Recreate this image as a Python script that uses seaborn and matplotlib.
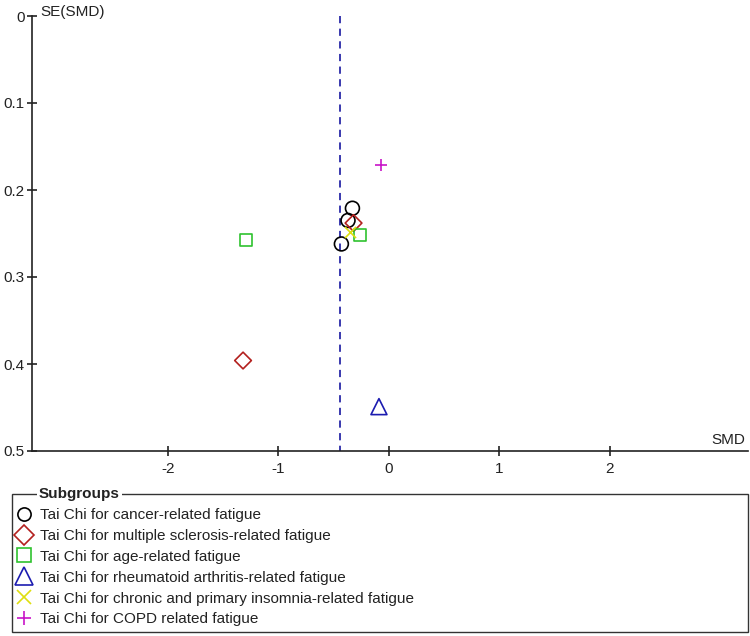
import matplotlib
matplotlib.use("Agg")
import matplotlib.pyplot as plt
from matplotlib.lines import Line2D
from matplotlib.patches import Rectangle
import seaborn as sns
import pandas as pd

# ---- data ----
groups = [
    "Tai Chi for cancer-related fatigue",
    "Tai Chi for multiple sclerosis-related fatigue",
    "Tai Chi for age-related fatigue",
    "Tai Chi for rheumatoid arthritis-related fatigue",
    "Tai Chi for chronic and primary insomnia-related fatigue",
    "Tai Chi for COPD related fatigue",
]
cancer_smd = [-0.33, -0.37, -0.43]
cancer_se = [0.221, 0.235, 0.262]
ms_smd = [-0.32, -1.32]
ms_se = [0.238, 0.396]
age_smd = [-0.26, -1.29]
age_se = [0.252, 0.257]
ra_smd = [-0.09]
ra_se = [0.449]
insomnia_smd = [-0.35]
insomnia_se = [0.248]
copd_smd = [-0.07]
copd_se = [0.171]
pooled_smd = -0.44

x_ticks = [-2, -1, 0, 1, 2]
x_tick_labels = ["-2", "-1", "0", "1", "2"]
y_ticks = [0, 0.1, 0.2, 0.3, 0.4, 0.5]
y_tick_labels = ["0", "0.1", "0.2", "0.3", "0.4", "0.5"]

# ---- style ----
sns.set_style("ticks")
plt.rcParams["font.family"] = ["Liberation Sans", "DejaVu Sans"]
plt.rcParams["font.size"] = 11

colors = ["#000000", "#b3201e", "#2fc22f", "#1c1cb0", "#dede10", "#c814c8"]
markers = ["o", "D", "s", "^", "x", "+"]
msizes = [10.0, 8.5, 8.6, 11.5, 8.0, 8.0]
leg_sizes = [9.5, 9.7, 9.8, 13.0, 9.5, 9.5]
series = [
    (cancer_smd, cancer_se),
    (ms_smd, ms_se),
    (age_smd, age_se),
    (ra_smd, ra_se),
    (insomnia_smd, insomnia_se),
    (copd_smd, copd_se),
]

fig = plt.figure(figsize=(7.5, 6.36), dpi=100)
ax = fig.add_axes([32 / 750, 1 - 451 / 636, (748 - 32) / 750, (451 - 16) / 636])

for g, (xs, ys), c, m, s in zip(groups, series, colors, markers, msizes):
    df = pd.DataFrame({"SMD": xs, "SE": ys})
    if m in ("x", "+"):
        sns.scatterplot(data=df, x="SMD", y="SE", ax=ax, marker=m, color=c,
                        s=s ** 2, linewidth=1.2, zorder=3)
    else:
        sns.scatterplot(data=df, x="SMD", y="SE", ax=ax, marker=m, color=c,
                        facecolors="none", edgecolor=c, s=s ** 2,
                        linewidth=1.2, zorder=3)

ax.plot([pooled_smd, pooled_smd], [0, 0.5], color="#2a2aa8", lw=1.3,
        linestyle=(0, (4.0, 3.0)), zorder=2)

ax.set_xlim(-3.23, 3.25)
ax.set_ylim(0.5, 0)
ax.set_xticks(x_ticks)
ax.set_xticklabels(x_tick_labels)
ax.set_yticks(y_ticks)
ax.set_yticklabels(y_tick_labels)
ax.set_xlabel("")
ax.set_ylabel("")
for sp in ["top", "right"]:
    ax.spines[sp].set_visible(False)
for sp in ["left", "bottom"]:
    ax.spines[sp].set_linewidth(1.2)
    ax.spines[sp].set_color("#222222")
ax.tick_params(axis="x", direction="inout", length=7.5, width=1.2, pad=4.3,
               labelsize=11, colors="#222222")
ax.tick_params(axis="y", direction="inout", length=6.5, width=1.2, pad=2.2,
               labelsize=11, colors="#222222")

ax.annotate("SE(SMD)", xy=(0, 1), xycoords="axes fraction", xytext=(6, -2),
            textcoords="offset points", ha="left", va="bottom", fontsize=11,
            color="#222222")
ax.annotate("SMD", xy=(1, 0), xycoords="axes fraction", xytext=(-2, 3),
            textcoords="offset points", ha="right", va="bottom", fontsize=11,
            color="#222222")

# ---- legend ----
handles = []
for c, m, s in zip(colors, markers, leg_sizes):
    if m in ("x", "+"):
        h = Line2D([], [], linestyle="none", marker=m, color=c, markersize=s,
                   markeredgewidth=1.2)
    else:
        h = Line2D([], [], linestyle="none", marker=m, markerfacecolor="none",
                   markeredgecolor=c, markersize=s, markeredgewidth=1.2)
    handles.append(h)

leg = fig.legend(handles, groups, loc="upper left",
                 bbox_to_anchor=(16 / 750, 1 - 508 / 636), frameon=False,
                 handlelength=1.0, handletextpad=0.55, borderpad=0,
                 labelspacing=0.45, fontsize=11, borderaxespad=0)
for t in leg.get_texts():
    t.set_color("#222222")

box = Rectangle((12 / 750, 1 - 632 / 636), (748 - 12) / 750, (632 - 494) / 636,
                transform=fig.transFigure, fill=False, edgecolor="#333333",
                lw=1.0)
fig.add_artist(box)
fig.text(39 / 750, 1 - 494 / 636, "Subgroups", ha="left", va="center",
         fontsize=11, fontweight="bold", color="#222222",
         bbox=dict(facecolor="white", edgecolor="none", pad=1.5))

fig.savefig("out.png", dpi=100)
